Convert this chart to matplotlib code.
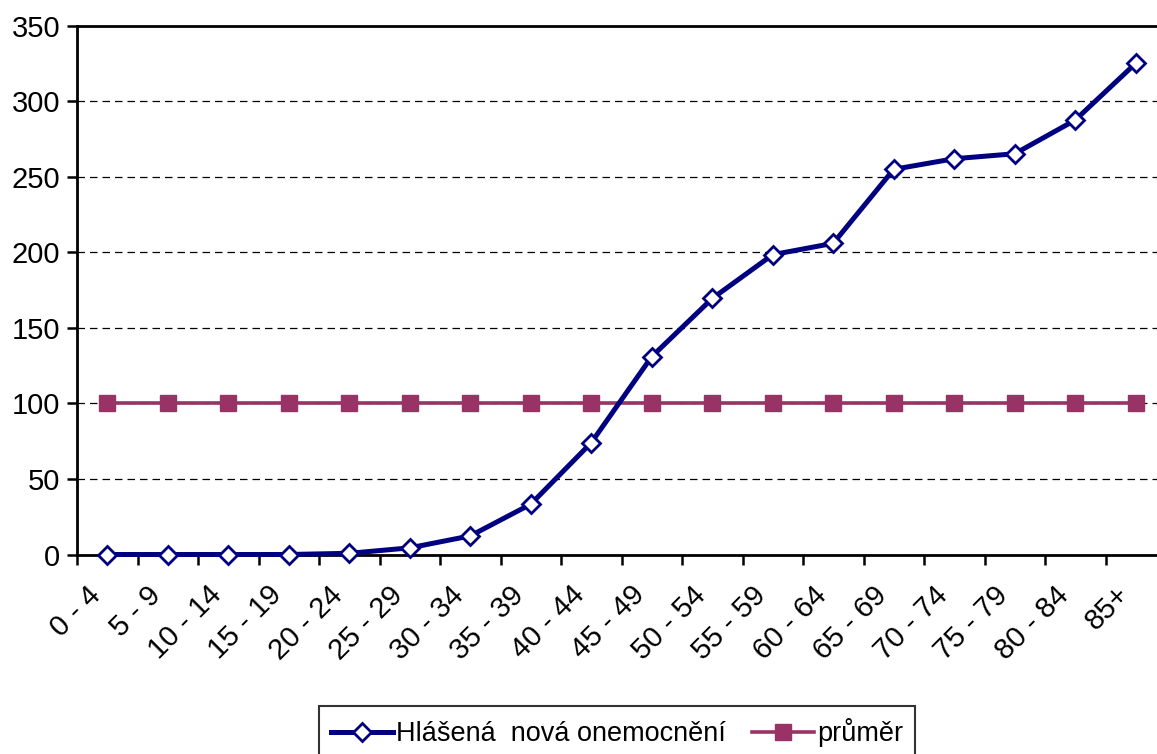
import matplotlib
matplotlib.use("Agg")
import matplotlib.pyplot as plt
from matplotlib.ticker import MultipleLocator
from matplotlib.transforms import ScaledTranslation

categories = ["0 - 4", "5 - 9", "10 - 14", "15 - 19", "20 - 24", "25 - 29",
              "30 - 34", "35 - 39", "40 - 44", "45 - 49", "50 - 54", "55 - 59",
              "60 - 64", "65 - 69", "70 - 74", "75 - 79", "80 - 84", "85+"]
hlasena = [0, 0, 0, 0, 0.8, 4.4, 12.3, 33.3, 74, 131, 169.5, 198.5,
           206, 255, 262, 265.3, 287.6, 325.2]
prumer = [100] * len(categories)
series_names = ["Hlášená  nová onemocnění", "průměr"]

plt.rcParams['font.family'] = ['Liberation Sans', 'DejaVu Sans']
FS = 21

W, H = 1157, 754
fig = plt.figure(figsize=(W / 100, H / 100), dpi=100)
left, right, top, bottom = 77, 1166, 25.8, 554.5
ax = fig.add_axes([left / W, 1 - bottom / H, (right - left) / W, (bottom - top) / H])

x = [i + 0.5 for i in range(len(categories))]
ax.plot(x, hlasena, color="#000080", lw=3.6, marker="D", ms=9.5,
        mfc="white", mec="#000080", mew=2, label=series_names[0], zorder=4,
        clip_on=False)
ax.plot(x, prumer, color="#993366", lw=2.6, marker="s", ms=12,
        mfc="#993366", mec="#993366", label=series_names[1], zorder=3,
        clip_on=False)

ax.set_xlim(0, len(categories))
ax.set_ylim(0, 350)
ax.yaxis.set_major_locator(MultipleLocator(50))
ax.set_xticks(range(len(categories) + 1))
ax.set_xticklabels([])
ax.set_xticks(x, minor=True)
ax.set_xticklabels(categories, minor=True, rotation=45, ha="right",
                   va="top", rotation_mode="anchor", fontsize=FS)
ax.tick_params(axis="x", which="minor", length=0, pad=19)
ax.tick_params(axis="x", which="major", direction="out", length=7, width=1.8)
ax.tick_params(axis="y", direction="out", length=7, width=1.8, labelsize=FS, pad=5)

offset = ScaledTranslation(-21 / 100, 0, fig.dpi_scale_trans)
for lab in ax.get_xticklabels(minor=True):
    lab.set_transform(lab.get_transform() + offset)

ax.grid(axis="y", color="black", linestyle=(0, (6, 4)), linewidth=0.9)
ax.set_axisbelow(True)
for s in ["left", "bottom", "top", "right"]:
    ax.spines[s].set_color("black")
    ax.spines[s].set_linewidth(2)

leg = fig.legend(loc="upper left", bbox_to_anchor=(319 / W, 1 - 706 / H),
                 ncol=2, fontsize=19.5, frameon=True, fancybox=False,
                 edgecolor="black", handlelength=2.3, handletextpad=0.1,
                 columnspacing=0.95, borderpad=0.45, borderaxespad=0)
leg.get_frame().set_linewidth(1.5)

fig.savefig("out.png", dpi=100)
